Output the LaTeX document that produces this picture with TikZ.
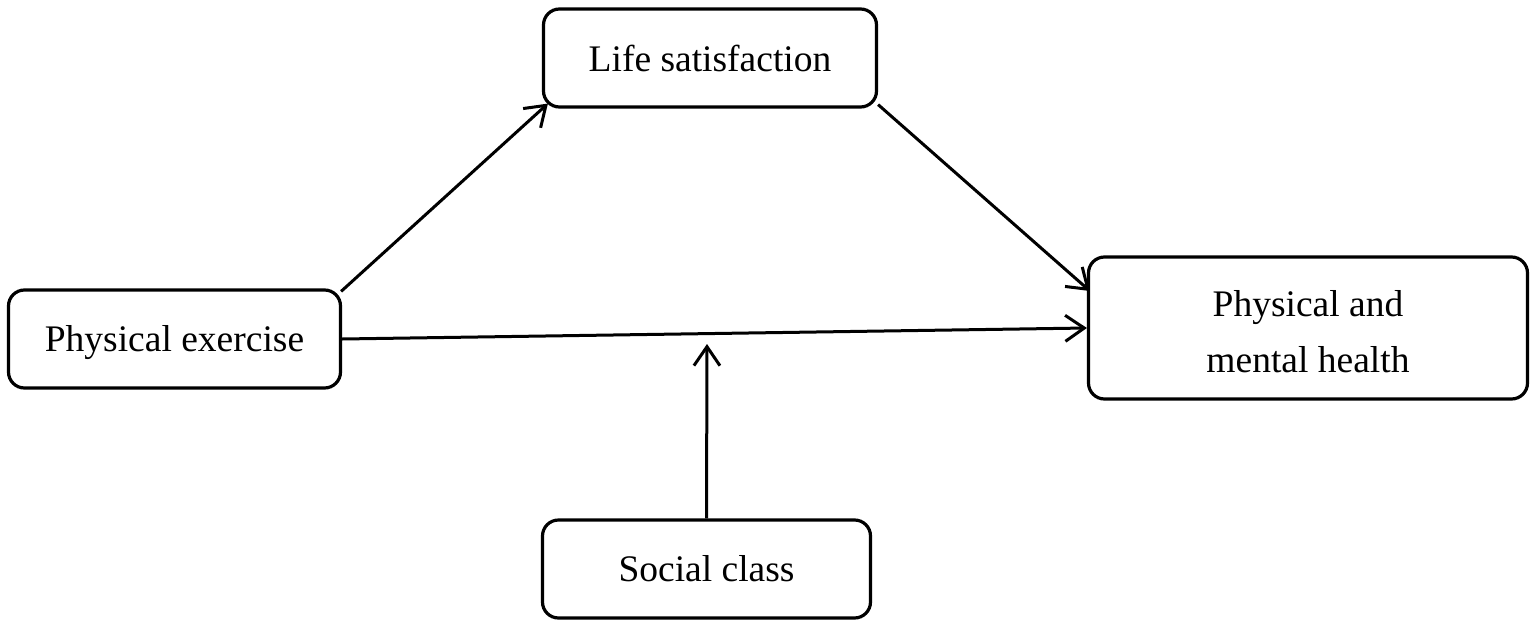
\documentclass[tikz,border=0pt]{standalone}
\usepackage{fontspec}
\setmainfont{Liberation Serif}
\usetikzlibrary{arrows.meta}
\begin{document}
\begin{tikzpicture}[x=1pt,y=-1pt,
  txt/.style={inner sep=0pt,align=center,font=\fontsize{37.5}{56}\selectfont},
  box/.style={draw,line width=3.2pt,rounded corners=16pt,txt},
  conn/.style={line width=3pt,-{Straight Barb[length=19pt,width=26pt,line width=3pt]}}]
\useasboundingbox (0,0) rectangle (1535,627);
\node[box,minimum width=333pt,minimum height=98pt] (ls) at (710,58) {Life satisfaction};
\node[box,minimum width=332pt,minimum height=98pt,
  label={[txt,yshift=-4pt]center:Physical exercise}] (pe) at (174.5,339) {};
\node[box,minimum width=439pt,minimum height=142pt,
  label={[txt,yshift=-4pt]center:{Physical and\\mental health}}] (pmh) at (1308,328) {};
\node[box,minimum width=328pt,minimum height=98pt] (sc) at (706.5,569) {Social class};
\coordinate (mid) at (707,344);
\draw[conn] ([xshift=-1pt,yshift=-3pt]pe.north east) -- ([xshift=6pt,yshift=5pt]ls.south west);
\draw[conn] ([xshift=0pt,yshift=4pt]ls.south east) -- ([xshift=3pt,yshift=37pt]pmh.west);
\draw[conn] (pe.east) -- (pmh.west);
\draw[conn] (sc.north) -- (mid);
\end{tikzpicture}
\end{document}
